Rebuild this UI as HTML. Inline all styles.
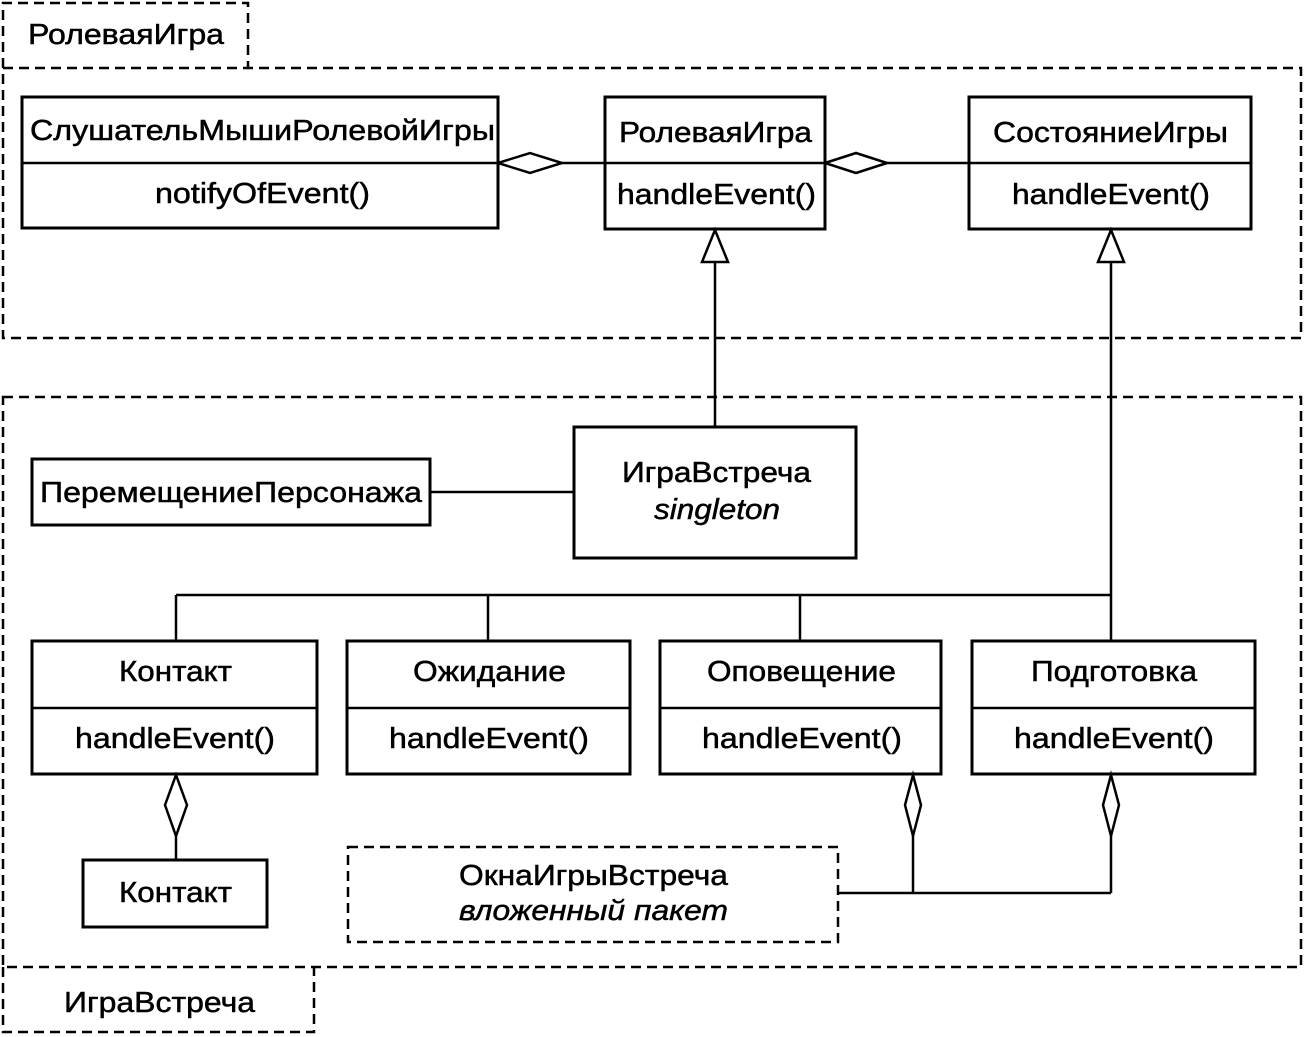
<!DOCTYPE html>
<html><head><meta charset="utf-8"><style>
html,body{margin:0;padding:0;background:#fff;}
svg{display:block;}
text{font-family:"Liberation Sans",sans-serif;font-size:29px;fill:#000;stroke:#000;stroke-width:0.5;}
</style></head><body>
<svg width="1304" height="1037" viewBox="0 0 1304 1037" xmlns="http://www.w3.org/2000/svg">
<g fill="none" stroke="#000" stroke-width="2.5" stroke-dasharray="10,6">
<polyline points="3,68 3,3 248,3 248,68"/>
<rect x="3" y="68" width="1298" height="270"/>
<rect x="3" y="397" width="1298" height="570"/>
<polyline points="3,967 3,1032 314,1032 314,967"/>
<rect x="348" y="847" width="490" height="95"/>
</g>
<g fill="#fff" stroke="#000" stroke-width="3">
<rect x="22" y="97" width="476" height="131"/>
<rect x="605" y="97" width="220" height="132"/>
<rect x="969" y="97" width="282" height="132"/>
<rect x="574" y="427" width="282" height="131"/>
<rect x="32" y="459" width="398" height="66"/>
<rect x="32" y="641" width="285" height="133"/>
<rect x="347" y="641" width="283" height="133"/>
<rect x="660" y="641" width="281" height="133"/>
<rect x="972" y="641" width="283" height="133"/>
<rect x="83" y="860" width="184" height="67"/>
</g>
<g stroke="#000" stroke-width="2.5" fill="none">
<line x1="22" y1="163" x2="498" y2="163"/>
<line x1="605" y1="163" x2="825" y2="163"/>
<line x1="969" y1="163" x2="1251" y2="163"/>
<line x1="32" y1="708" x2="317" y2="708"/>
<line x1="347" y1="708" x2="630" y2="708"/>
<line x1="660" y1="708" x2="941" y2="708"/>
<line x1="972" y1="708" x2="1255" y2="708"/>
<line x1="562" y1="163" x2="605" y2="163"/>
<line x1="887" y1="163" x2="969" y2="163"/>
<line x1="715" y1="262" x2="715" y2="427"/>
<line x1="1111" y1="262" x2="1111" y2="641"/>
<line x1="430" y1="492" x2="574" y2="492"/>
<line x1="176" y1="595" x2="1111" y2="595"/>
<line x1="176" y1="595" x2="176" y2="641"/>
<line x1="488" y1="595" x2="488" y2="641"/>
<line x1="800" y1="595" x2="800" y2="641"/>
<line x1="176" y1="836" x2="176" y2="860"/>
<line x1="913" y1="836" x2="913" y2="893"/>
<line x1="1111" y1="836" x2="1111" y2="893"/>
<line x1="838" y1="893" x2="1111" y2="893"/>
<polygon points="498,163 530,153 562,163 530,173"/>
<polygon points="825,163 856,153 887,163 856,173"/>
<polygon points="715,230 728,262 702,262"/>
<polygon points="1111,230 1124,262 1098,262"/>
<polygon points="176,775 187,805 176,836 165,805"/>
<polygon points="913,775 921,805 913,836 905,805"/>
<polygon points="1111,775 1119,805 1111,836 1103,805"/>
</g>
<g lengthAdjust="spacingAndGlyphs">
<text x="28" y="44" textLength="196" lengthAdjust="spacingAndGlyphs">РолеваяИгра</text>
<text x="30" y="140" textLength="465" lengthAdjust="spacingAndGlyphs">СлушательМышиРолевойИгры</text>
<text x="155" y="203" textLength="215" lengthAdjust="spacingAndGlyphs">notifyOfEvent()</text>
<text x="619" y="142" textLength="193" lengthAdjust="spacingAndGlyphs">РолеваяИгра</text>
<text x="617" y="204" textLength="199" lengthAdjust="spacingAndGlyphs">handleEvent()</text>
<text x="993" y="142" textLength="235" lengthAdjust="spacingAndGlyphs">СостояниеИгры</text>
<text x="1012" y="204" textLength="198" lengthAdjust="spacingAndGlyphs">handleEvent()</text>
<text x="40" y="502" textLength="382" lengthAdjust="spacingAndGlyphs">ПеремещениеПерсонажа</text>
<text x="622" y="482" textLength="189" lengthAdjust="spacingAndGlyphs">ИграВстреча</text>
<text x="654" y="519" textLength="126" lengthAdjust="spacingAndGlyphs" font-style="italic">singleton</text>
<text x="119" y="681" textLength="113" lengthAdjust="spacingAndGlyphs">Контакт</text>
<text x="75" y="748" textLength="200" lengthAdjust="spacingAndGlyphs">handleEvent()</text>
<text x="413" y="681" textLength="153" lengthAdjust="spacingAndGlyphs">Ожидание</text>
<text x="389" y="748" textLength="200" lengthAdjust="spacingAndGlyphs">handleEvent()</text>
<text x="707" y="681" textLength="189" lengthAdjust="spacingAndGlyphs">Оповещение</text>
<text x="702" y="748" textLength="200" lengthAdjust="spacingAndGlyphs">handleEvent()</text>
<text x="1031" y="681" textLength="166" lengthAdjust="spacingAndGlyphs">Подготовка</text>
<text x="1014" y="748" textLength="200" lengthAdjust="spacingAndGlyphs">handleEvent()</text>
<text x="119" y="902" textLength="113" lengthAdjust="spacingAndGlyphs">Контакт</text>
<text x="459" y="885" textLength="269" lengthAdjust="spacingAndGlyphs">ОкнаИгрыВстреча</text>
<text x="459" y="920" textLength="269" lengthAdjust="spacingAndGlyphs" font-style="italic">вложенный пакет</text>
<text x="64" y="1012" textLength="191" lengthAdjust="spacingAndGlyphs">ИграВстреча</text>
</g>
</svg>
</body></html>
